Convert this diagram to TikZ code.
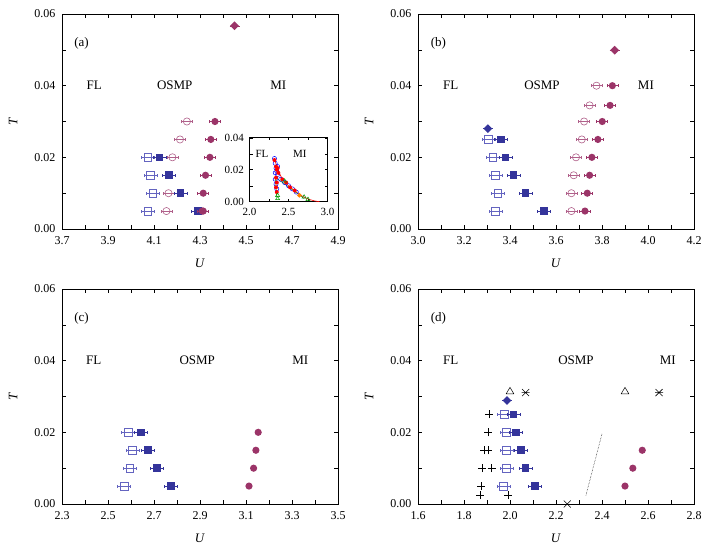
\documentclass[tikz,border=0pt]{standalone}
\usepackage{fontspec}
\setmainfont{Liberation Serif}
\usetikzlibrary{calc}
\definecolor{pur}{HTML}{9B3468}
\definecolor{lpur}{HTML}{B0608A}
\definecolor{blu}{HTML}{34349B}
\definecolor{lblu}{HTML}{6464C0}
\tikzset{
  ebar/.style={line width=0.6pt},
  fcirc/.pic={\draw[ebar,x=1pt,y=1pt] (-5.5,0)--(5.5,0) (-5.5,-1.5)--(-5.5,1.5) (5.5,-1.5)--(5.5,1.5); \fill[x=1pt,y=1pt] (0,0) circle (3.6);},
  ocirc/.pic={\draw[line width=0.6pt,fill=white,x=1pt,y=1pt] (0,0) circle (3.6); \draw[ebar,x=1pt,y=1pt] (-5.5,0)--(5.5,0) (-5.5,-1.5)--(-5.5,1.5) (5.5,-1.5)--(5.5,1.5);},
  fsq/.pic={\draw[ebar,x=1pt,y=1pt] (-6.5,0)--(6.5,0) (-6.5,-1.5)--(-6.5,1.5) (6.5,-1.5)--(6.5,1.5); \fill[x=1pt,y=1pt] (-3.8,-3.8) rectangle (3.8,3.8);},
  osq/.pic={\draw[line width=0.6pt,fill=white,x=1pt,y=1pt] (-3.8,-3.8) rectangle (3.8,3.8); \draw[ebar,x=1pt,y=1pt] (-6.5,0)--(6.5,0) (-6.5,-1.5)--(-6.5,1.5) (6.5,-1.5)--(6.5,1.5);},
  fdia/.pic={\draw[ebar,x=1pt,y=1pt] (-5,0)--(5,0); \fill[x=1pt,y=1pt] (0,4.4)--(4.4,0)--(0,-4.4)--(-4.4,0)--cycle;},
  otri/.pic={\draw[line width=0.5pt,x=1pt,y=1pt] (0,3.8)--(3.8,-2.6)--(-3.8,-2.6)--cycle;},
  pls/.pic={\draw[line width=0.6pt,x=1pt,y=1pt] (-4,0)--(4,0) (0,-4)--(0,4);},
  crs/.pic={\draw[line width=0.6pt,x=1pt,y=1pt] (-3.5,-3.5)--(3.5,3.5) (-3.5,3.5)--(3.5,-3.5);},
  ast/.pic={\draw[line width=0.6pt,x=1pt,y=1pt] (-3.5,-3.5)--(3.5,3.5) (-3.5,3.5)--(3.5,-3.5) (-4,0)--(4,0);},
  lbl/.style={font=\fontsize{13}{15}\selectfont},
  tk/.style={font=\fontsize{12}{14}\selectfont},
  itk/.style={font=\fontsize{11}{13}\selectfont},
}
\newcommand\myframe[4]{%
  \draw[line width=0.8pt] (#1,0) rectangle (#2,0.06);
  \foreach \t in {0.01,0.02,0.03,0.04,0.05}{\draw (#1,\t)--++(4pt,0); \draw (#2,\t)--++(-4pt,0);}
  \foreach \i in {1,...,11}{\draw ({#1+0.1*\i},0)--++(0,4pt); \draw ({#1+0.1*\i},0.06)--++(0,-4pt);}
  \foreach \t/\l [count=\k] in {0/0.00,0.02/0.02,0.04/0.04,0.06/0.06}{\node[tk,left=3pt] (#4yl\k) at (#1,\t) {\l};}
  \foreach \v [count=\k] in {#3}{\node[tk,below=4pt] (#4xl\k) at (\v,0) {\v};}
  \node[lbl,rotate=90] (#4T) at ([xshift=-49pt]#1,0.03) {\textit{T}};
  \pgfmathsetmacro\xm{(#1+#2)/2}
  \node[lbl] (#4U) at ([yshift=-34pt]\xm,0) {\textit{U}};
}
\begin{document}
\begin{tikzpicture}
\useasboundingbox (0,0) rectangle (714pt,550pt);
% panel a
\begin{scope}[xshift=62pt,yshift=321pt,x=230pt,y=3583.33pt,shift={(-3.7,0)}]
\myframe{3.7}{4.9}{3.7,3.9,4.1,4.3,4.5,4.7,4.9}{a}
\node[lbl] (la) at (3.785,0.0517) {(a)};
\node[lbl] (fla) at (3.84,0.04) {FL};
\node[lbl] (osa) at (4.19,0.04) {OSMP};
\node[lbl] (mia) at (4.64,0.04) {MI};
\pic[pur] at (4.45,0.0567) {fdia};
\foreach \u/\t in {4.243/0.03,4.213/0.025,4.18/0.02,4.163/0.01,4.154/0.005}{\pic[lpur] at (\u,\t) {ocirc};}
\foreach \u/\t in {4.365/0.03,4.347/0.025,4.343/0.02,4.324/0.015,4.314/0.01,4.314/0.005}{\pic[pur] at (\u,\t) {fcirc};}
\foreach \u/\t in {4.073/0.02,4.085/0.015,4.095/0.01,4.073/0.005}{\pic[lblu] at (\u,\t) {osq};}
\foreach \u/\t in {4.124/0.02,4.164/0.015,4.215/0.01,4.292/0.005}{\pic[blu] at (\u,\t) {fsq};}
\pic[pur] at (4.31,0.005) {fcirc};
\end{scope}
% inset
\begin{scope}[xshift=249.5pt,yshift=348.3pt,x=78pt,y=1600pt,shift={(-2,0)}]
\fill[white] (2,0) rectangle (3,0.0405);
\draw[line width=0.8pt] (2,0) rectangle (3,0.0405);
\foreach \t in {0.01,0.02,0.03,0.04}{\draw (2,\t)--++(3pt,0); \draw (3,\t)--++(-3pt,0);}
\foreach \v in {2.25,2.5,2.75}{\draw (\v,0)--++(0,3pt); \draw (\v,0.0405)--++(0,-3pt);}
\foreach \t/\l [count=\k] in {0/0.00,0.02/0.02,0.04/0.04}{\node[itk,left=2pt] (iyl\k) at (2,\t) {\l};}
\foreach \v [count=\k] in {2.0,2.5,3.0}{\node[itk,below=3pt] (ixl\k) at (\v,0) {\v};}
\node[itk] (ifl) at (2.16,0.03) {FL};
\node[itk] (imi) at (2.645,0.03) {MI};
\draw[red,line width=0.6pt] (2.32,0.027) .. controls (2.36,0.02) and (2.4,0.014) .. (2.5,0.01) .. controls (2.6,0.006) and (2.7,0.001) .. (2.9,0);
\draw[green!60!black,line width=0.5pt] (2.33,0.015)--(2.35,0.003) (2.34,0.015)--(2.7,0.002);
\foreach \u/\t in {2.32/0.027,2.33/0.024,2.34/0.021,2.35/0.019,2.36/0.017,2.33/0.014,2.34/0.011,2.35/0.008,2.4/0.014,2.45/0.012,2.5/0.01,2.55/0.008,2.6/0.006,2.33/0.018,2.36/0.022}{\draw[blue,line width=0.5pt] (\u,\t) circle (2.1pt);}
\foreach \u/\t in {2.32/0.026,2.34/0.022,2.35/0.02,2.37/0.018,2.34/0.015,2.35/0.012,2.34/0.009,2.35/0.006,2.42/0.014,2.47/0.012,2.52/0.009,2.58/0.007,2.36/0.021}{\fill[red] (\u,\t) circle (2pt);}
\foreach \u/\t in {2.36/0.004,2.36/0.002,2.7/0.003,2.75/0.0015,2.45/0.013}{\draw[green!60!black,line width=0.5pt] (\u,\t) ++(0,2.2pt) --++(-2pt,-3.4pt) --++(4pt,0) -- cycle;}
\fill[orange] (2.64,0.004) ++(0,2.4pt) --++(2.4pt,-2.4pt) --++(-2.4pt,-2.4pt) --++(-2.4pt,2.4pt) -- cycle;
\end{scope}
% panel b
\begin{scope}[xshift=418pt,yshift=321pt,x=230pt,y=3583.33pt,shift={(-3.0,0)}]
\myframe{3.0}{4.2}{3.0,3.2,3.4,3.6,3.8,4.0,4.2}{b}
\node[lbl] (lb) at (3.089,0.0517) {(b)};
\node[lbl] (flb) at (3.142,0.04) {FL};
\node[lbl] (osb) at (3.539,0.04) {OSMP};
\node[lbl] (mib) at (3.991,0.04) {MI};
\pic[blu] at (3.304,0.028) {fdia};
\foreach \u/\t in {3.306/0.025,3.326/0.02,3.337/0.015,3.347/0.01,3.337/0.005}{\pic[lblu] at (\u,\t) {osq};}
\foreach \u/\t in {3.361/0.025,3.381/0.02,3.416/0.015,3.468/0.01,3.547/0.005}{\pic[blu] at (\u,\t) {fsq};}
\pic[pur] at (3.855,0.0499) {fdia};
\foreach \u/\t in {3.776/0.04,3.746/0.0345,3.722/0.03,3.712/0.025,3.687/0.02,3.677/0.015,3.667/0.01,3.667/0.005}{\pic[lpur] at (\u,\t) {ocirc};}
\foreach \u/\t in {3.845/0.04,3.835/0.0345,3.801/0.03,3.782/0.025,3.756/0.02,3.746/0.015,3.736/0.01,3.726/0.005}{\pic[pur] at (\u,\t) {fcirc};}
\end{scope}
% panel c
\begin{scope}[xshift=62pt,yshift=46pt,x=230pt,y=3583.33pt,shift={(-2.3,0)}]
\myframe{2.3}{3.5}{2.3,2.5,2.7,2.9,3.1,3.3,3.5}{c}
\node[lbl] (lc) at (2.385,0.0517) {(c)};
\node[lbl] (flc) at (2.438,0.04) {FL};
\node[lbl] (osc) at (2.888,0.04) {OSMP};
\node[lbl] (mic) at (3.336,0.04) {MI};
\foreach \u/\t in {2.588/0.02,2.606/0.015,2.594/0.01,2.57/0.005}{\pic[lblu] at (\u,\t) {osq};}
\foreach \u/\t in {2.643/0.02,2.675/0.015,2.714/0.01,2.774/0.005}{\pic[blu] at (\u,\t) {fsq};}
\foreach \u/\t in {3.153/0.02,3.143/0.015,3.133/0.01,3.113/0.005}{\fill[pur] (\u,\t) circle (3.6pt);}
\end{scope}
% panel d
\begin{scope}[xshift=418pt,yshift=46pt,x=230pt,y=3583.33pt,shift={(-1.6,0)}]
\myframe{1.6}{2.8}{1.6,1.8,2.0,2.2,2.4,2.6,2.8}{d}
\node[lbl] (ld) at (1.689,0.0517) {(d)};
\node[lbl] (fld) at (1.742,0.04) {FL};
\node[lbl] (osd) at (2.287,0.04) {OSMP};
\node[lbl] (mid) at (2.686,0.04) {MI};
\pic at (2.0,0.0315) {otri};
\pic at (2.5,0.0315) {otri};
\pic at (2.068,0.0311) {ast};
\pic at (2.648,0.0311) {ast};
\pic[blu] at (1.987,0.0289) {fdia};
\foreach \u/\t in {1.91/0.025,1.906/0.02,1.888/0.015,1.906/0.015,1.878/0.01,1.92/0.01,1.874/0.005,1.87/0.0025,1.993/0.0025}{\pic at (\u,\t) {pls};}
\foreach \u/\t in {1.975/0.025,1.985/0.02,1.985/0.015,1.985/0.01,1.971/0.005}{\pic[lblu] at (\u,\t) {osq};}
\foreach \u/\t in {2.015/0.025,2.025/0.02,2.048/0.015,2.068/0.01,2.109/0.005}{\pic[blu] at (\u,\t) {fsq};}
\foreach \u/\t in {2.575/0.015,2.534/0.01,2.5/0.005}{\fill[pur] (\u,\t) circle (3.6pt);}
\pic at (2.249,0) {crs};
\coordinate (dA) at (2.33,0.0024);
\coordinate (dB) at (2.4,0.0196);
\draw[densely dotted,line width=0.5pt] (dA)--(dB);
\end{scope}
\end{tikzpicture}
\end{document}
